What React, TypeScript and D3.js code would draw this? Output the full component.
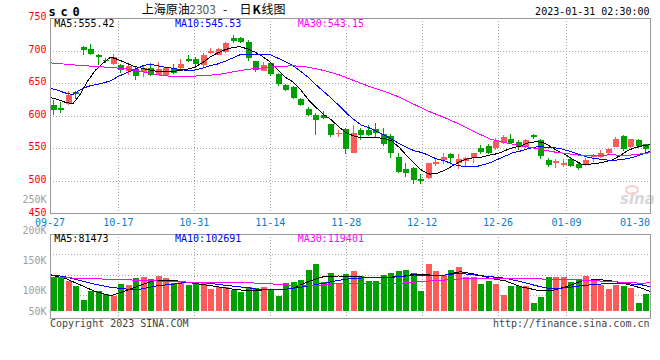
import * as d3 from "d3";

// trading days, 2022-09-27 .. 2023-01-31
const dates = [
  "09-27", "09-28", "09-29", "09-30", "10-10", "10-11", "10-12", "10-13", "10-14", "10-17",
  "10-18", "10-19", "10-20", "10-21", "10-24", "10-25", "10-26", "10-27", "10-28", "10-31",
  "11-01", "11-02", "11-03", "11-04", "11-07", "11-08", "11-09", "11-10", "11-11", "11-14",
  "11-15", "11-16", "11-17", "11-18", "11-21", "11-22", "11-23", "11-24", "11-25", "11-28",
  "11-29", "11-30", "12-01", "12-02", "12-05", "12-06", "12-07", "12-08", "12-09", "12-12",
  "12-13", "12-14", "12-15", "12-16", "12-19", "12-20", "12-21", "12-22", "12-23", "12-26",
  "12-27", "12-28", "12-29", "12-30", "01-03", "01-04", "01-05", "01-06", "01-09", "01-10",
  "01-11", "01-12", "01-13", "01-16", "01-17", "01-18", "01-19", "01-20", "01-30", "01-31",
];

const open = [
  617, 612, 618, 636.4, 705, 702.5, 693.4, 686, 679.6, 677.1,
  669, 671.5, 667, 673, 661.8, 662.8, 673, 673, 686.8, 686.8,
  677.1, 696, 693.4, 697.5, 718.8, 718.8, 713.7, 683.2, 668, 680.7,
  663.9, 646.6, 644, 625.7, 610.9, 600.8, 600.8, 586.6, 572.8, 579.9,
  543.3, 577.4, 577.4, 579.9, 572.3, 568.7, 537.1, 518.8, 519.3, 502.5,
  504.1, 525.5, 531.6, 541.8, 526.5, 530.5, 535.6, 551, 553.5, 550,
  557.5, 564.6, 560, 552.4, 569.7, 562.6, 531.6, 528, 524.4, 533,
  525.5, 524.4, 536.6, 537.1, 543.3, 552.4, 568.7, 552, 562.6, 556,
];
const high = [
  624.7, 621.5, 638.4, 637.4, 707.5, 709.7, 694.4, 689, 694.4, 679.1,
  678, 674, 676.6, 680.7, 682.2, 675, 679, 686.8, 692.4, 690.8,
  695.9, 703.6, 704.6, 713.7, 723.9, 721.4, 716.3, 684.2, 682.2, 681.7,
  665.4, 648.6, 645, 627.2, 613, 604.3, 606.9, 587.6, 577.8, 581.4,
  586.1, 581.4, 585.6, 588, 581.4, 571.2, 543.3, 526.5, 520.4, 510.2,
  528, 535.6, 543.3, 543.3, 540.7, 536.6, 543.3, 554.5, 556, 566.2,
  570.3, 572.3, 562.1, 563.6, 572.3, 563.6, 535.6, 533, 534, 535.6,
  529, 535.6, 541.8, 547, 550.9, 567.2, 569.7, 564.6, 564.6, 557,
];
const low = [
  600.8, 604.6, 616, 626, 693.4, 692.4, 678.1, 680.7, 678.1, 665.4,
  662.8, 654.2, 659.3, 660.3, 661.8, 661.8, 664.4, 672, 682.2, 673,
  674, 694.4, 692.4, 696, 711.2, 711.2, 684.2, 666.4, 668, 661.3,
  645, 637.4, 625.7, 614.5, 599.3, 569.7, 594.1, 567.7, 567.7, 540.7,
  543.3, 562.1, 568.7, 566.2, 553.5, 535.6, 511.7, 505.1, 494.9, 494.9,
  502.5, 522.9, 525.5, 528, 517.8, 522, 528, 540.7, 540.7, 546.8,
  556, 556, 547, 550.9, 563.6, 534, 521.4, 519.3, 520.4, 520.4,
  516.2, 522.9, 529.5, 535.6, 539.2, 551.9, 545.8, 550.9, 550.9, 543.3,
];
const close = [
  608, 608, 632.3, 633.8, 701, 694.4, 690.8, 684, 690.8, 670.5,
  676.6, 661.3, 673, 662.8, 672, 673, 665.4, 679.6, 684.2, 679.1,
  693.4, 699.5, 702.5, 711.2, 714.8, 713.7, 688.3, 670.5, 677.1, 664.4,
  649.1, 640, 627.2, 617, 600.3, 592.6, 596.7, 570.3, 573.8, 548.3,
  573.8, 569.7, 570.3, 573.8, 557, 543.3, 514.2, 511.7, 501, 499,
  528, 529.5, 537.1, 535.6, 533.1, 535, 543.3, 544.8, 543.3, 561.1,
  567.7, 558.5, 553.5, 562.6, 567.2, 538.2, 523.9, 530, 526.5, 522.9,
  519.3, 531.6, 539.2, 543.3, 548.3, 564.6, 548.3, 564.6, 553.5, 548.3,
];
const volume = [
  144500, 144500, 126300, 105300, 45600, 83800, 83800, 71000, 63800, 113600,
  109100, 138800, 143400, 134900, 147400, 138800, 119000, 126300, 109100, 116400,
  116400, 92300, 102100, 102100, 88000, 80800, 102100, 95100, 102100, 90900,
  63800, 116400, 120600, 130500, 173200, 198700, 120600, 158900, 112000, 154700,
  168800, 147400, 126300, 126300, 151900, 160400, 168800, 173200, 161700, 83800,
  198700, 168800, 151900, 173200, 185700, 144500, 143400, 113600, 126300, 113600,
  66800, 105300, 105300, 105300, 32700, 59500, 143400, 143400, 143400, 120600,
  129200, 147400, 130500, 109100, 92300, 109100, 105300, 97800, 31500, 71000,
];

const ma5 = [
  628.2, 624.7, 620.6, 618, 633.3, 653.9, 670, 680.7, 690, 686,
  681, 676, 673, 670.5, 668, 668, 668, 669, 671, 674,
  680.7, 689.3, 696, 701, 704.6, 706.1, 702.5, 697.5, 690.8, 682.2,
  670.5, 658.8, 651.7, 640, 624.7, 613, 601.8, 594.1, 583, 573.8,
  568.7, 566.2, 566.2, 566.2, 565, 561, 551, 538.2, 526.5, 515.3,
  510.2, 511.7, 516.3, 522.9, 529.5, 534, 535.6, 536.6, 539.7, 541.8,
  546.8, 550.9, 553.5, 558.5, 560, 558.5, 551.9, 544.8, 539.2, 531.6,
  525.5, 525.5, 526.5, 529, 531.6, 538.2, 545.8, 550.9, 553.5, 555.4,
];
const ma10 = [
  642.5, 639, 634.9, 632.3, 640, 645, 647.6, 650.1, 653.7, 660.3,
  665.4, 670.5, 675.6, 679.1, 677.1, 674.6, 673, 671, 669.5, 670,
  672.5, 676.6, 679.1, 683.2, 688.3, 693.4, 694.4, 694.4, 694.4, 693.4,
  688.3, 683.2, 676.6, 668, 658.8, 647.6, 637.4, 627.2, 616, 604.3,
  594.1, 585.5, 581.4, 576.3, 570.2, 563.6, 557, 550.9, 545.8, 543.3,
  538.2, 533.1, 530.5, 525.5, 522.9, 521.4, 521.4, 524.4, 528, 533.1,
  538.2, 543.3, 545.8, 549.4, 551.9, 551.9, 550.9, 549.9, 546.8, 543.3,
  539.2, 535.6, 534, 532, 531.6, 532, 534, 536.6, 540.7, 545.5,
];
const ma30: [string, number][] = [
  ["09-27", 681.2], ["09-29", 679.1], ["10-10", 677.1], ["10-12", 675.6], ["10-14", 674],
  ["10-18", 672], ["10-20", 668], ["10-24", 663], ["10-26", 660.3], ["10-28", 660.3],
  ["11-01", 661.3], ["11-03", 663], ["11-07", 667], ["11-09", 671], ["11-11", 673.5],
  ["11-15", 675.5], ["11-17", 676.6], ["11-21", 674.5], ["11-23", 669.5], ["11-25", 663],
  ["11-29", 654], ["12-01", 645], ["12-05", 637.5], ["12-07", 628.5], ["12-09", 617],
  ["12-13", 606], ["12-15", 596.7], ["12-19", 586.5], ["12-21", 574.5], ["12-23", 564],
  ["12-27", 558.5], ["12-29", 553.5], ["01-03", 549.9], ["01-05", 544.8], ["01-09", 541.8],
  ["01-11", 538.8], ["01-13", 539.2], ["01-17", 539.7], ["01-19", 539], ["01-30", 541.5],
  ["01-31", 543.1],
];

const volMa5: [string, number][] = [
  ["09-27", 151900], ["09-29", 137700], ["10-10", 109400], ["10-12", 81000], ["10-14", 63800],
  ["10-18", 85200], ["10-20", 109400], ["10-24", 130600], ["10-26", 130600], ["10-28", 120700],
  ["11-01", 112200], ["11-03", 102100], ["11-07", 92300], ["11-09", 85200], ["11-11", 88100],
  ["11-15", 88100], ["11-17", 95300], ["11-21", 123400], ["11-23", 144700], ["11-25", 147700],
  ["11-29", 144700], ["12-01", 142100], ["12-05", 142100], ["12-07", 144700], ["12-09", 154900],
  ["12-13", 151900], ["12-15", 151900], ["12-19", 166000], ["12-21", 154900], ["12-23", 137900],
  ["12-27", 126400], ["12-29", 102100], ["01-03", 88100], ["01-05", 85100], ["01-09", 102100],
  ["01-11", 126400], ["01-13", 133600], ["01-17", 126400], ["01-19", 112300], ["01-30", 95300],
  ["01-31", 81500],
];
const volMa10: [string, number][] = [
  ["09-27", 153200], ["09-29", 144700], ["10-10", 127700], ["10-12", 112300], ["10-14", 99600],
  ["10-18", 92300], ["10-20", 92300], ["10-24", 105100], ["10-26", 112300], ["10-28", 120700],
  ["11-01", 120700], ["11-03", 112300], ["11-07", 105100], ["11-09", 97900], ["11-11", 88100],
  ["11-15", 88100], ["11-17", 95300], ["11-21", 105100], ["11-23", 116600], ["11-25", 129400],
  ["11-29", 137900], ["12-01", 140400], ["12-05", 140400], ["12-07", 144700], ["12-09", 151900],
  ["12-13", 149000], ["12-15", 151900], ["12-19", 159000], ["12-21", 151900], ["12-23", 144700],
  ["12-27", 137900], ["12-29", 123400], ["01-03", 106400], ["01-05", 92300], ["01-09", 97900],
  ["01-11", 106400], ["01-13", 112300], ["01-17", 116600], ["01-19", 115200], ["01-30", 109400],
  ["01-31", 102700],
];
const volMa30: [string, number][] = [
  ["09-27", 142100], ["10-10", 137900], ["10-14", 133600], ["10-20", 129400], ["10-26", 123400],
  ["11-01", 120700], ["11-07", 120700], ["11-11", 116600], ["11-17", 108000], ["11-23", 109400],
  ["11-25", 116600], ["12-01", 116600], ["12-07", 116600], ["12-13", 126400], ["12-19", 134900],
  ["12-23", 137900], ["12-29", 137900], ["01-05", 133600], ["01-11", 130600], ["01-17", 123400],
  ["01-30", 116600], ["01-31", 119400],
];

const priceTicks = [450, 500, 550, 600, 650, 700, 750];
const volTickLabels = [250000, 200000, 150000, 100000, 50000];
const dateTicks = ["09-27", "10-17", "10-31", "11-14", "11-28", "12-12", "12-26", "01-09", "01-30"];
const maNames = ["MA5", "MA10", "MA30"];
const maColors = ["#000", "#00f", "#f0f"];
const priceMaLabels = ["555.42", "545.53", "543.15"];
const volMaLabels = ["81473", "102691", "119401"];

const mono = "'DejaVu Sans Mono', monospace";
const RED = "#ff5a5a";
const GREEN = "#00a000";
const GRID = "#a8a8a8";

export default function App() {
  const width = 660;
  const height = 360;
  const left = 50;
  const right = 650;
  const mainTop = 18;
  const mainBottom = 213.3;
  const volTop = 234.2;
  const volBottom = 317.8;
  const volBase = 310.7;

  const xBand = d3.scaleBand<string>().domain(dates).range([left, right]).paddingInner(0.2).paddingOuter(0.1);
  const xPoint = d3.scalePoint<string>().domain(dates).range([left, right]);
  const yPrice = d3.scaleLinear().domain([450, 750]).range([mainBottom, mainTop]);
  const yVol = d3.scaleLinear().domain([0, 325500]).range([volBase, volTop]);
  // sina's volume axis text does not follow the bars
  const yVolLabel = d3.scaleLinear().domain([0, 250000]).range([355, 203.3]);

  const priceLine = d3.line<[string, number]>().x(p => xPoint(p[0])!).y(p => yPrice(p[1]));
  const volLine = d3.line<[string, number]>().x(p => xPoint(p[0])!).y(p => yVol(p[1]));

  const priceMas: [string, number][][] = [
    dates.map((d, i) => [d, ma5[i]] as [string, number]),
    dates.map((d, i) => [d, ma10[i]] as [string, number]),
    ma30,
  ];
  const volMas = [volMa5, volMa10, volMa30];
  const bw = Math.round(xBand.bandwidth());
  const gridDates = dateTicks.slice(1, -1);
  const volGrid = [1, 2, 3].map(k => volTop + 20.25 * k);

  return (
    <svg width={width} height={height} style={{ position: "absolute", left: 0, top: 0, background: "#fff" }}>
      {/* header */}
      <text x={48.5} y={15.7} fontFamily={mono} fontSize={12} fontWeight="bold" letterSpacing={-1.2}>s c 0</text>
      <text y={14} fontSize={12} fontFamily="'Noto Sans CJK SC', sans-serif" fill="#000">
        <tspan x={141.7}>上海原油</tspan>
        <tspan x={189.3} fill="#555">2303</tspan>
        <tspan x={223}>-</tspan>
        <tspan x={239.5}>日</tspan>
        <tspan x={252.5} fontWeight="bold">K</tspan>
        <tspan x={261.5}>线图</tspan>
      </text>
      <text x={649.5} y={15} textAnchor="end" fontFamily={mono} fontSize={10} fill="#000">2023-01-31 02:30:00</text>

      {/* price panel grid */}
      <g stroke={GRID} strokeDasharray="1,2" shapeRendering="crispEdges">
        {priceTicks.slice(1, -1).map(t => (
          <line key={t} x1={left} x2={right} y1={Math.round(yPrice(t)) + 0.5} y2={Math.round(yPrice(t)) + 0.5} />
        ))}
        {gridDates.map(d => (
          <line key={d} x1={Math.round(xPoint(d)!) + 0.5} x2={Math.round(xPoint(d)!) + 0.5} y1={mainTop} y2={mainBottom} />
        ))}
        {gridDates.map(d => (
          <line key={"v" + d} x1={Math.round(xPoint(d)!) + 0.5} x2={Math.round(xPoint(d)!) + 0.5} y1={volTop} y2={volBottom} />
        ))}
        {volGrid.map(y => (
          <line key={y} x1={left} x2={right} y1={Math.round(y) + 0.5} y2={Math.round(y) + 0.5} />
        ))}
      </g>

      {/* sina watermark */}
      <g opacity={0.5}>
        <ellipse cx={632} cy={190} rx={6} ry={4} fill="none" stroke="#f0a0a0" strokeWidth={2} />
        <text x={620} y={204} fontFamily="'DejaVu Sans', sans-serif" fontSize={15} fontStyle="italic" fontWeight="bold" fill="#b0b0b0">sina</text>
      </g>

      {/* candles */}
      <g shapeRendering="crispEdges">
        {dates.map((d, i) => {
          const up = close[i] >= open[i];
          const color = up ? RED : GREEN;
          const x0 = Math.round(xBand(d)!);
          const yTop = Math.round(yPrice(Math.max(open[i], close[i])));
          const yBot = Math.round(yPrice(Math.min(open[i], close[i])));
          return (
            <g key={d}>
              <line x1={x0 + 2.5} x2={x0 + 2.5} y1={Math.round(yPrice(high[i]))} y2={Math.round(yPrice(low[i]))} stroke={color} />
              <rect x={x0} y={yTop} width={bw} height={Math.max(1, yBot - yTop)} fill={color} />
            </g>
          );
        })}
      </g>

      {/* price MAs */}
      {priceMas.map((pts, k) => (
        <path key={k} d={priceLine(pts)!} fill="none" stroke={maColors[k]} strokeWidth={1} shapeRendering="crispEdges" />
      ))}

      {/* volume bars */}
      <g shapeRendering="crispEdges">
        {dates.map((d, i) => {
          const y = Math.round(yVol(volume[i]));
          return (
            <rect key={d} x={Math.round(xBand(d)!)} y={y} width={bw} height={Math.round(volBase) - y}
              fill={close[i] >= open[i] ? RED : GREEN} />
          );
        })}
      </g>
      {volMas.map((pts, k) => (
        <path key={k} d={volLine(pts)!} fill="none" stroke={maColors[k]} strokeWidth={1} shapeRendering="crispEdges" />
      ))}

      {/* frames */}
      <g fill="none" stroke="#999" shapeRendering="crispEdges">
        <rect x={left + 0.5} y={mainTop + 0.5} width={right - left} height={mainBottom - mainTop} />
        <rect x={left + 0.5} y={volTop + 0.5} width={right - left} height={volBottom - volTop} />
      </g>

      {/* MA labels */}
      {maNames.map((n, k) => (
        <text key={n} x={[54.3, 175, 297.7][k]} y={27.3} fontFamily={mono} fontSize={10} fill={maColors[k]}>
          {n}:{priceMaLabels[k]}
        </text>
      ))}
      {maNames.map((n, k) => (
        <text key={"v" + n} x={[54.3, 175, 297.7][k]} y={242.3} fontFamily={mono} fontSize={10} fill={maColors[k]}>
          {n}:{volMaLabels[k]}
        </text>
      ))}

      {/* axes text */}
      {volTickLabels.map(v => (
        <text key={v} x={46.5} y={Math.min(315, yVolLabel(v))} textAnchor="end" fontFamily={mono} fontSize={10} fill="#a0a0a0">
          {v / 1000}K
        </text>
      ))}
      {priceTicks.map(t => (
        <text key={t} x={46.5} y={yPrice(t) + 2.2} textAnchor="end" fontFamily={mono} fontSize={10} fill="#f00">
          {t}
        </text>
      ))}
      {dateTicks.map((d, i) => {
        const last = i === dateTicks.length - 1;
        return (
          <text key={d} x={last ? right : xPoint(d)!} y={225.7} textAnchor={last ? "end" : "middle"}
            fontFamily={mono} fontSize={10} fill="#0a7cc8">
            {d}
          </text>
        );
      })}

      <text x={50} y={326.5} fontFamily={mono} fontSize={10} fill="#444">Copyright 2023 SINA.COM</text>
      <text x={649.5} y={326.5} textAnchor="end" fontFamily={mono} fontSize={10} fill="#444">http://finance.sina.com.cn</text>
    </svg>
  );
}
